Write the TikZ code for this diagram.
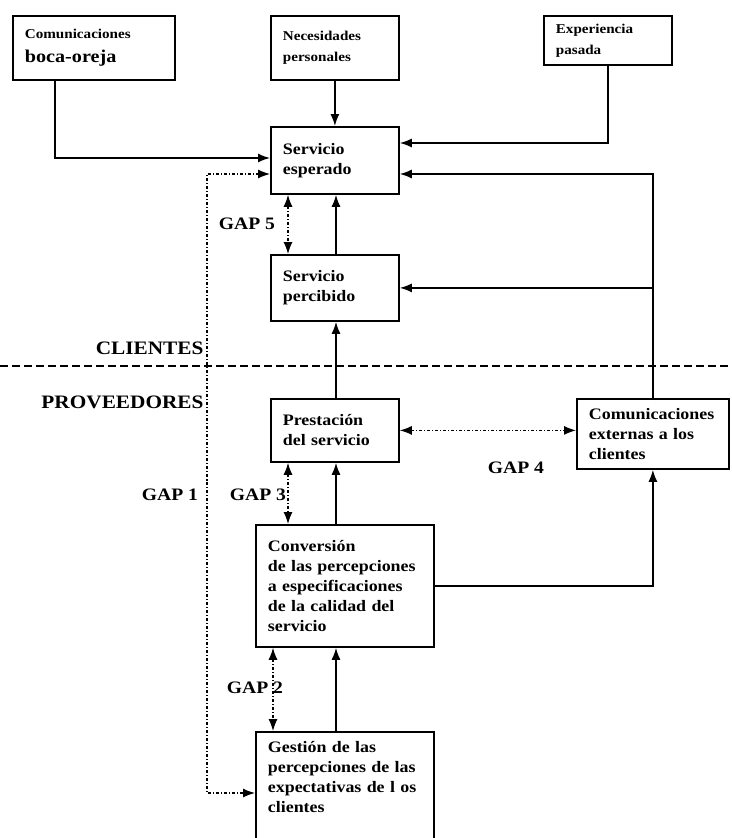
\documentclass[tikz,border=0pt]{standalone}
\usepackage{fontspec}
\setmainfont{Liberation Serif}[FakeStretch=1.12]
\usetikzlibrary{arrows.meta}

\begin{document}
\begin{tikzpicture}[x=1pt,y=-1pt,
  box/.style={draw,line width=1.8pt,anchor=north west,align=left,inner xsep=12pt,inner ysep=4pt,
              font=\bfseries\fontsize{16}{20}\selectfont},
  smallbox/.style={box,font=\bfseries\fontsize{13.5}{21}\selectfont},
  arr/.style={-{Latex[length=12pt,width=9pt]},line width=1.5pt},
  gaparr/.style={{Latex[length=12pt,width=9pt]}-{Latex[length=12pt,width=9pt]},line width=1.2pt,
                 dash pattern=on 3pt off 2pt on 1pt off 2pt},
  lbl/.style={font=\bfseries\fontsize{17.5}{20}\selectfont},
  side/.style={font=\bfseries\fontsize{19}{22}\selectfont}]
  \useasboundingbox (0,0) rectangle (731,838);
  \clip (0,0) rectangle (731,838);
  % clientes
  \node[smallbox,text width=138,minimum height=64] (boca) at (12,15)
    {Comunicaciones\\[3pt]{\fontsize{18}{24}\selectfont boca-oreja}};
  \node[smallbox,text width=104,minimum height=64] (neces) at (270,15) {Necesidades\\personales};
  \node[smallbox,text width=104,minimum height=49] (exper) at (543,15) {Experiencia\\pasada};
  \node[box,text width=104,minimum height=67] (esper) at (270,126) {Servicio\\esperado};
  \node[box,text width=104,minimum height=66] (percib) at (270,254) {Servicio\\percibido};
  % proveedores
  \node[box,text width=128,minimum height=70] (extern) at (576,398) {Comunicaciones\\externas a los\\clientes};
  \node[box,text width=104,minimum height=63] (prest) at (270,398) {Prestación\\del servicio};
  \node[box,text width=154,minimum height=122] (conver) at (255,524)
    {Conversión\\de las percepciones\\a especificaciones\\de la calidad del\\servicio};
  \node[box,text width=154,inner ysep=9pt] (gestion) at (255,731)
    {Gestión de las\\percepciones de las\\expectativas de l os\\clientes\\ \mbox{}\\ \mbox{}};
  % separacion
  \draw[line width=1.2pt,dash pattern=on 8pt off 4pt] (0,366) -- (731,366);
  \node[side,anchor=east] (clien) at (207,348) {CLIENTES};
  \node[side,anchor=east] (prove) at (207,402) {PROVEEDORES};
  % conectores
  \draw[arr] (boca.south west) ++(43,0) |- (esper.west |- 0,158);
  \draw[arr] (neces) -- (esper);
  \draw[arr] (exper.south west) ++(65,0) |- (esper.east |- 0,143);
  \draw[arr] (extern.north) |- (esper.east |- 0,174);
  \draw[arr] (extern.north |- percib.east) -- (percib.east);
  \draw[arr] (percib.north -| 336,0) -- (esper.south -| 336,0);
  \draw[arr] (prest.north -| 336,0) -- (percib.south -| 336,0);
  \draw[arr] (conver.north -| 336,0) -- (prest.south -| 336,0);
  \draw[arr] (gestion.north -| 336,0) -- (conver.south -| 336,0);
  \draw[arr] (conver.east) -| (extern.south);
  % gaps
  \draw[gaparr] (esper.south -| 288,0) -- (percib.north -| 288,0);
  \draw[gaparr] (prest.east) -- (prest.east -| extern.west);
  \draw[gaparr] (prest.south -| 288,0) -- (conver.north -| 288,0);
  \draw[gaparr] (conver.south -| 273,0) -- (gestion.north -| 273,0);
  \draw[gaparr] (esper.west |- 0,174) -| (207,480) |- (gestion.west |- 0,793);
  \node[lbl] (gap5) at (247,224) {GAP 5};
  \node[lbl] (gap1) at (170,495) {GAP 1};
  \node[lbl] (gap3) at (258,495) {GAP 3};
  \node[lbl] (gap4) at (516,468) {GAP 4};
  \node[lbl] (gap2) at (255,688) {GAP 2};
\end{tikzpicture}
\end{document}
